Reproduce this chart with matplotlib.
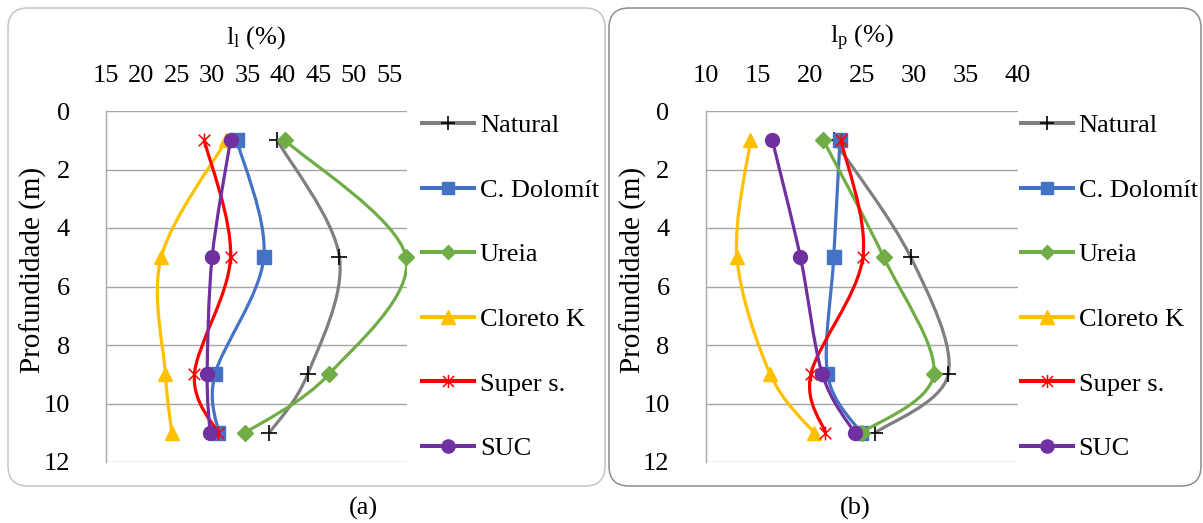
import matplotlib
matplotlib.use("Agg")
import matplotlib.pyplot as plt
from matplotlib.path import Path
from matplotlib.patches import PathPatch, FancyBboxPatch
from matplotlib.lines import Line2D

plt.rcParams["font.family"] = ["Liberation Serif", "DejaVu Serif"]
plt.rcParams["mathtext.fontset"] = "custom"
plt.rcParams["mathtext.rm"] = "Liberation Serif"
plt.rcParams["mathtext.it"] = "Liberation Serif:italic"

# ---- data -------------------------------------------------------------
depth = [1, 5, 9, 11]
series_names = ["Natural", "C. Dolomít", "Ureia", "Cloreto K", "Super s.", "SUC"]

# liquid limit, l_l (%)
ll_natural = [39.2, 48.0, 43.5, 38.1]
ll_dolomit = [33.5, 37.3, 30.4, 30.9]
ll_ureia = [40.3, 57.4, 46.5, 34.7]
ll_cloreto = [32.0, 22.8, 23.4, 24.3]
ll_super = [28.9, 32.6, 27.5, 30.8]
ll_suc = [32.6, 30.0, 29.3, 29.7]

# plastic limit, l_p (%)
lp_natural = [22.3, 29.7, 33.3, 26.3]
lp_dolomit = [22.9, 22.3, 21.7, 24.9]
lp_ureia = [21.3, 27.1, 31.9, 25.0]
lp_cloreto = [14.3, 13.0, 16.2, 20.4]
lp_super = [23.0, 25.1, 20.1, 21.5]
lp_suc = [16.4, 19.1, 21.2, 24.3]

ll_ticks = [15, 20, 25, 30, 35, 40, 45, 50, 55]
lp_ticks = [10, 15, 20, 25, 30, 35, 40]
depth_ticks = [0, 2, 4, 6, 8, 10, 12]

# ---- styles -------------------------------------------------------------
# asterisk marker: an "x" crossed by a vertical stroke
star = Path([(-1, -1), (1, 1), (-1, 1), (1, -1), (0, -1.2), (0, 1.2)],
            [Path.MOVETO, Path.LINETO, Path.MOVETO, Path.LINETO,
             Path.MOVETO, Path.LINETO])

styles = [
    dict(color="#7f7f7f", marker="+", mfc="black", mec="black", ms=11, mew=1.2),
    dict(color="#4472c4", marker="s", mfc="#4472c4", mec="#4472c4", ms=9.5, mew=1),
    dict(color="#70ad47", marker="D", mfc="#70ad47", mec="#70ad47", ms=8, mew=1),
    dict(color="#ffc000", marker="^", mfc="#ffc000", mec="#ffc000", ms=10.5, mew=1),
    dict(color="#ff0000", marker=star, mfc="none", mec="#ff0000", ms=10, mew=1.1),
    dict(color="#7030a0", marker="o", mfc="#7030a0", mec="#7030a0", ms=10, mew=1),
]
LW = 2.3


def smooth_path(xs, ys):
    """Bezier spline through the points (Catmull-Rom style control points)."""
    pts = list(zip(xs, ys))
    n = len(pts)
    verts = [pts[0]]
    codes = [Path.MOVETO]
    for i in range(n - 1):
        p0 = pts[i - 1] if i > 0 else pts[i]
        p1 = pts[i]
        p2 = pts[i + 1]
        p3 = pts[i + 2] if i + 2 < n else pts[i + 1]
        c1 = (p1[0] + (p2[0] - p0[0]) / 6, p1[1] + (p2[1] - p0[1]) / 6)
        c2 = (p2[0] - (p3[0] - p1[0]) / 6, p2[1] - (p3[1] - p1[1]) / 6)
        verts += [c1, c2, p2]
        codes += [Path.CURVE4] * 3
    return Path(verts, codes)


W, H = 1203, 523
fig = plt.figure(figsize=(W / 100, H / 100), dpi=100)


def px_axes(x0, x1, y0, y1):
    ax = fig.add_axes([x0 / W, 1 - y1 / H, (x1 - x0) / W, (y1 - y0) / H])
    ax.patch.set_visible(False)
    return ax


def draw_panel(ax, data, xlim, xticks, xlabel):
    for k, (vals, st) in enumerate(zip(data, styles)):
        z = 3 + k * 0.1
        patch = PathPatch(smooth_path(vals, depth), facecolor="none",
                          edgecolor=st["color"], lw=LW, capstyle="round",
                          joinstyle="round", zorder=z)
        ax.add_patch(patch)
        ax.plot(vals, depth, ls="none", marker=st["marker"], ms=st["ms"],
                mfc=st["mfc"], mec=st["mec"], mew=st["mew"], zorder=z + 0.05,
                clip_on=False)
    ax.set_xlim(*xlim)
    ax.set_ylim(12, 0)
    ax.set_xticks(xticks)
    ax.set_yticks(depth_ticks)
    ax.xaxis.tick_top()
    ax.xaxis.set_label_position("top")
    ax.tick_params(axis="both", length=0, labelsize=19)
    ax.tick_params(axis="x", pad=17)
    ax.tick_params(axis="y", pad=26)
    ax.set_xlabel(xlabel, fontsize=19, labelpad=16)
    ax.grid(axis="y", color="#a6a6a6", lw=1)
    ax.set_axisbelow(True)
    for s in ["top", "right", "bottom"]:
        ax.spines[s].set_visible(False)
    ax.spines["left"].set_color("#a6a6a6")
    ax.spines["left"].set_linewidth(1)


def draw_legend(ax, x_px):
    handles = [Line2D([], [], color=st["color"], lw=LW + 0.6,
                      marker=st["marker"], ms=st["ms"] * 0.95, mfc=st["mfc"],
                      mec=st["mec"], mew=st["mew"])
               for st in styles]
    ax.legend(handles, series_names, loc="center left",
              bbox_to_anchor=(x_px / W, 1 - 287 / H),
              bbox_transform=fig.transFigure, frameon=False, fontsize=19,
              handlelength=2.0, handletextpad=0.2, labelspacing=1.56,
              borderpad=0, borderaxespad=0)


# panel frames
for x0, x1, col in [(8, 605, "#c4c4c4"), (609, 1201, "#8c8c8c")]:
    box = FancyBboxPatch((x0 / 100, (H - 486) / 100), (x1 - x0) / 100,
                         (486 - 8) / 100,
                         boxstyle="round,pad=0,rounding_size=0.2",
                         transform=fig.dpi_scale_trans, facecolor="none",
                         edgecolor=col, lw=1.1, zorder=-1)
    fig.patches.append(box)

ax1 = px_axes(106, 406.7, 111, 462)
draw_panel(ax1, [ll_natural, ll_dolomit, ll_ureia, ll_cloreto, ll_super, ll_suc],
           (15, 57.5), ll_ticks, r"l$_{\mathrm{l}}$ (%)")
draw_legend(ax1, 421.7)

ax2 = px_axes(705.7, 1018, 111, 462)
draw_panel(ax2, [lp_natural, lp_dolomit, lp_ureia, lp_cloreto, lp_super, lp_suc],
           (10, 40), lp_ticks, r"l$_{\mathrm{p}}$ (%)")
draw_legend(ax2, 1020.5)

for xc in (33, 633):
    fig.text(xc / W, 1 - 270 / H, "Profundidade (m)", rotation=90,
             ha="center", va="center", fontsize=21)

fig.text(363 / W, 1 - 508 / H, "(a)", ha="center", va="center", fontsize=19)
fig.text(855 / W, 1 - 508 / H, "(b)", ha="center", va="center", fontsize=19)

fig.savefig("out.png", dpi=100, facecolor="white")
